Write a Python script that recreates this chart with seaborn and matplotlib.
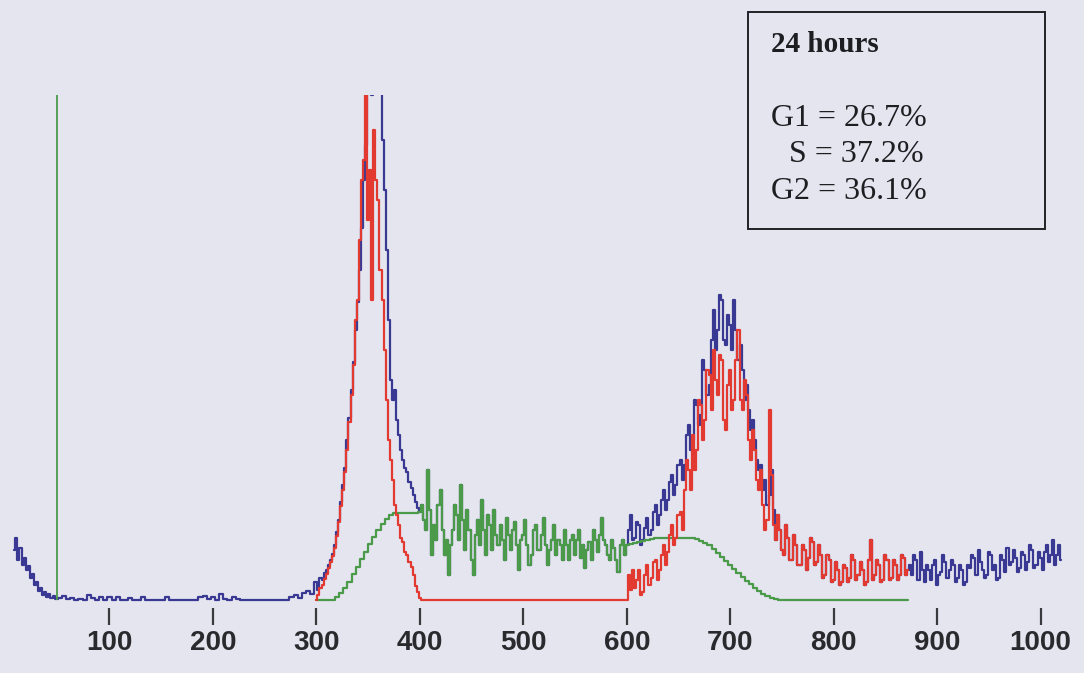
import numpy as np
import pandas as pd
import matplotlib
matplotlib.use("Agg")
import matplotlib.pyplot as plt
from matplotlib.patches import Rectangle
import seaborn as sns

# ---------------------------------------------------------------
# DNA content histogram (counts in display units)
# each segment: start channel, bin width, values
# ---------------------------------------------------------------

# total events: debris tail (2-channel bins)
blue_debris_start, blue_debris_step = 8, 2
blue_debris = [50, 62, 40, 52, 35, 42, 30, 34, 22, 26, 15, 18, 9, 12, 5, 8, 3,
               6, 2, 4]

# total events: sub-G1 region (4-channel bins)
blue_low_start, blue_low_step = 48, 4
blue_low = [1, 2, 4, 1, 2, 0, 1, 0, 5, 2, 0, 3, 0, 3, 0, 3, 0, 0, 2, 0, 0, 3,
            0, 0, 0, 0, 0, 3, 0, 0, 0, 0, 0, 0, 0, 3, 4, 1, 3, 0, 6, 1, 0, 3,
            1, 0, 0, 0, 0, 0, 0, 0, 0, 0, 0, 0, 0, 3, 5, 2, 7, 9, 6]

# total events: G1 peak (2-channel bins)
blue_g1_start, blue_g1_step = 300, 2
blue_g1 = [18, 10, 22, 20, 27, 30, 35, 40, 46, 55, 68, 80, 98, 115, 132, 160,
           182, 210, 238, 270, 298, 330, 372, 420, 455, 540, 540, 505, 540, 540,
           530, 540, 460, 410, 350, 280, 220, 200, 210, 180, 165, 150, 140, 132,
           128, 118, 112, 105, 98, 92]

# S-phase events, channels 400-600 (2-channel bins)
s_phase_start, s_phase_step = 400, 2
s_phase_counts = [88, 95, 80, 70, 130, 90, 45, 75, 60, 95, 110, 70, 45, 60, 25,
                  55, 70, 95, 85, 60, 115, 80, 50, 90, 70, 40, 25, 65, 80, 55,
                  100, 70, 45, 85, 75, 50, 90, 65, 55, 75, 60, 40, 82, 65, 50,
                  70, 78, 55, 30, 60, 65, 80, 55, 35, 45, 70, 75, 50, 50, 65,
                  82, 55, 35, 50, 60, 75, 45, 60, 55, 40, 70, 55, 40, 60, 65,
                  45, 60, 70, 42, 55, 32, 50, 58, 40, 70, 60, 48, 65, 82, 60,
                  55, 45, 40, 60, 52, 40, 28, 55, 60, 45, 55]

# total events: G2/M peak, left flank and top (2-channel bins)
blue_g2_start, blue_g2_step = 602, 2
blue_g2 = [70, 85, 60, 62, 78, 75, 55, 60, 72, 82, 65, 70, 88, 95, 75, 85, 100,
           110, 90, 100, 118, 125, 105, 115, 135, 140, 120, 135, 165, 175, 150,
           160, 200, 195, 175, 185, 240, 230, 205, 215, 260, 290, 250, 270, 305,
           300, 260, 255, 285, 275, 250, 300, 270, 240, 255, 230, 200, 215, 190,
           170, 180, 160, 140, 130, 135, 110, 120, 95, 105, 130, 90]

# total events: aggregates above G2 (2-channel bins)
blue_high_start, blue_high_step = 874, 2
blue_high = [35, 25, 45, 40, 20, 48, 30, 18, 35, 30, 20, 35, 40, 15, 25, 28, 45,
             38, 22, 30, 40, 35, 18, 22, 35, 30, 15, 18, 35, 32, 45, 42, 25, 50,
             38, 30, 22, 25, 48, 45, 30, 35, 20, 22, 45, 40, 28, 52, 35, 38, 50,
             42, 28, 32, 48, 45, 30, 38, 55, 50, 32, 35, 48, 42, 30, 48, 55, 38,
             45, 60, 35, 45, 55, 40]

# gated G1 / G2 events (2-channel bins)
red_g1_start, red_g1_step = 300, 2
red_g1 = [0, 5, 12, 15, 21, 26, 32, 38, 44, 52, 64, 78, 94, 110, 128, 150, 178,
          205, 235, 280, 300, 360, 420, 440, 505, 380, 430, 300, 470, 420, 400,
          330, 300, 250, 200, 160, 140, 120, 95, 85, 75, 62, 58, 48, 45, 38, 33,
          25, 14, 8, 2, 0, 0]
red_g2_start, red_g2_step = 600, 2
red_g2 = [0, 25, 10, 30, 12, 20, 30, 5, 8, 25, 35, 15, 22, 38, 40, 20, 30, 45,
          55, 35, 48, 65, 75, 55, 62, 85, 88, 70, 110, 140, 130, 110, 165, 130,
          150, 200, 195, 160, 180, 230, 225, 190, 250, 220, 205, 245, 240, 180,
          170, 215, 230, 190, 200, 240, 270, 200, 190, 220, 205, 160, 140, 170,
          150, 120, 110, 130, 95, 70, 80, 190, 125, 75, 60, 85, 70, 50, 45, 75,
          62, 40, 40, 65, 55, 35, 35, 55, 50, 30, 42, 62, 58, 35, 38, 55, 45,
          22, 25, 45, 40, 18, 20, 38, 30, 15, 18, 35, 32, 18, 22, 45, 40, 20,
          25, 38, 30, 15, 18, 40, 60, 20, 25, 40, 35, 18, 20, 45, 40, 20, 22,
          40, 35, 20, 25, 45, 42, 25, 30]

# S-phase model curve on either side of the S data (4-channel bins)
s_fit_left_start, s_fit_left_step = 300, 4
s_fit_left = [0, 0, 0, 0, 0, 3, 7, 12, 18, 26, 33, 41, 48, 56, 63, 70, 76, 81,
              85, 87, 87, 87, 87, 87, 87]
s_fit_right_start, s_fit_right_step = 604, 4
s_fit_right = [56, 57, 58, 59, 60, 61, 62, 62, 62, 62, 62, 62, 62, 62, 62, 62,
               61, 59, 57, 55, 51, 47, 43, 39, 35, 31, 27, 23, 19, 16, 12, 9, 6,
               4, 2, 1, 0, 0, 0, 0, 0, 0, 0, 0, 0, 0, 0, 0, 0, 0, 0, 0, 0, 0, 0,
               0, 0, 0, 0, 0, 0, 0, 0, 0, 0, 0, 0, 0]

gate_channel = 49

tick_values = [100, 200, 300, 400, 500, 600, 700, 800, 900, 1000]
title_text = "24 hours"
phase_lines = ["G1 = 26.7%", "S = 37.2%", "G2 = 36.1%"]

BG = "#E5E5EF"
BLUE = "#393994"
RED = "#E23A30"
GREEN = "#4A9A4A"


def seg(start, step, values):
    x = start + step * np.arange(len(values))
    return x, np.asarray(values, dtype=float)


def frame(parts):
    return pd.DataFrame({"channel": np.concatenate([p[0] for p in parts]),
                         "count": np.concatenate([p[1] for p in parts])})


# total histogram: above the G2 peak top it coincides with the gated trace
tail_start = 744
tail_idx = (tail_start - red_g2_start) // red_g2_step
blue = frame([seg(blue_debris_start, blue_debris_step, blue_debris),
              seg(blue_low_start, blue_low_step, blue_low),
              seg(blue_g1_start, blue_g1_step, blue_g1),
              seg(s_phase_start, s_phase_step, s_phase_counts),
              seg(blue_g2_start, blue_g2_step, blue_g2),
              seg(tail_start, red_g2_step, red_g2[tail_idx:]),
              seg(blue_high_start, blue_high_step, blue_high)])

red = frame([seg(red_g1_start, red_g1_step, red_g1),
             seg(red_g2_start, red_g2_step, red_g2)])

green = frame([seg(s_fit_left_start, s_fit_left_step, s_fit_left),
               seg(s_phase_start, s_phase_step, s_phase_counts),
               seg(s_fit_right_start, s_fit_right_step, s_fit_right)])

sns.set_theme(style="white")
plt.rcParams["font.family"] = ["Liberation Sans", "DejaVu Sans"]

W, H = 1084, 673
fig = plt.figure(figsize=(W / 100, H / 100), dpi=100, facecolor=BG)
# axis area: channel 0 at x=6 px, count 0 at y=600 px, top at y=95 px
ax = fig.add_axes([6 / W, (H - 603) / H, 1076 / W, 508 / H])
ax.set_facecolor(BG)
ax.set_xlim(0, 1040)
ax.set_ylim(-3, 505)

lw = 1.6
common = dict(ax=ax, x="channel", y="count", lw=lw, drawstyle="steps-mid",
              estimator=None, sort=False)
sns.lineplot(data=blue, color=BLUE, **common)
sns.lineplot(data=green, color=GREEN, **common)
sns.lineplot(data=red, color=RED, **common)
ax.vlines(gate_channel, 0, 505, color=GREEN, lw=1.3)

for s in ["left", "right", "top", "bottom"]:
    ax.spines[s].set_visible(False)
ax.spines["bottom"].set_position(("outward", 3.6))
ax.set_yticks([])
ax.set_xticks(tick_values)
ax.set_xticklabels([str(v) for v in tick_values], fontsize=20,
                   fontweight="bold", color="#2A2A2E")
ax.tick_params(axis="x", direction="out", length=12, width=1.6,
               color="#3A3A3E", pad=4, bottom=True)
ax.set_xlabel("")
ax.set_ylabel("")

# annotation box
fig.patches.append(Rectangle((748 / W, 1 - 229 / H), 297 / W, 217 / H,
                             transform=fig.transFigure, fill=False,
                             ec="#222226", lw=1.4))
serif = ["Liberation Serif", "DejaVu Serif"]
fig.text(771 / W, 1 - 52 / H, title_text, fontsize=21, fontweight="bold",
         family=serif, color="#1E1E22", va="baseline", ha="left")
fig.text(771 / W, 1 - 126 / H, phase_lines[0], fontsize=23, family=serif,
         color="#1E1E22", va="baseline", ha="left")
fig.text(789 / W, 1 - 162 / H, phase_lines[1], fontsize=23, family=serif,
         color="#1E1E22", va="baseline", ha="left")
fig.text(771 / W, 1 - 199 / H, phase_lines[2], fontsize=23, family=serif,
         color="#1E1E22", va="baseline", ha="left")

fig.savefig("out.png", dpi=100, facecolor=BG)
